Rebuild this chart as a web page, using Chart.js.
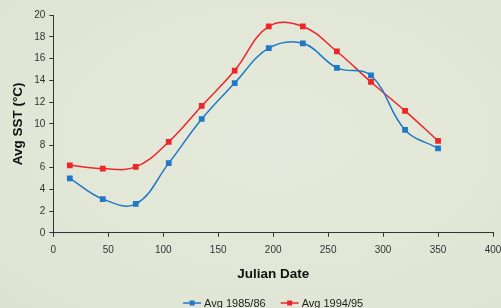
<!DOCTYPE html>
<html>
<head>
<meta charset="utf-8">
<script src="https://cdn.jsdelivr.net/npm/chart.js@4.4.1/dist/chart.umd.min.js"></script>
<style>
  html, body { margin: 0; padding: 0; }
  body {
    width: 501px; height: 308px; overflow: hidden;
    background: radial-gradient(ellipse at 55% 45%, #e6eadc 0%, #e1e6d6 60%, #dde3d2 100%);
  }
  canvas { display: block; }
</style>
</head>
<body>
<canvas id="sstChart" width="501" height="308"></canvas>
<script>
// Julian dates of the monthly averages
const julianDays = [15, 45, 75, 105, 135, 165, 196, 227, 258, 289, 320, 350];

// Average sea surface temperature (deg C)
const sst1985 = [5.0, 3.1, 2.65, 6.4, 10.45, 13.75, 16.95, 17.4, 15.15, 14.45, 9.45, 7.75];
const sst1994 = [6.2, 5.9, 6.05, 8.35, 11.65, 14.9, 18.95, 18.95, 16.65, 13.85, 11.2, 8.45];

const xTicks = [0, 50, 100, 150, 200, 250, 300, 350, 400];

const blue = 'rgb(32, 120, 200)';
const red = 'rgb(238, 38, 42)';
const FONT = '"Liberation Sans", Arial, sans-serif';

function toPoints(values) {
  return values.map((v, i) => ({ x: julianDays[i], y: v }));
}

// Legend drawn by hand: short line with a square marker, like the original
const lineLegend = {
  id: 'lineLegend',
  afterDraw(chart) {
    const ctx = chart.ctx;
    const y = 303;
    const items = chart.data.datasets.map(ds => ({ text: ds.label, color: ds.borderColor }));
    ctx.save();
    ctx.font = '11px ' + FONT;
    const lineW = 18, gap = 3, spacing = 15;
    let total = 0;
    items.forEach(it => { total += lineW + gap + ctx.measureText(it.text).width; });
    total += spacing * (items.length - 1);
    const area = chart.chartArea;
    let x = (area.left + area.right - total) / 2;
    items.forEach(it => {
      ctx.strokeStyle = it.color;
      ctx.fillStyle = it.color;
      ctx.lineWidth = 1.5;
      ctx.beginPath();
      ctx.moveTo(x, y);
      ctx.lineTo(x + lineW, y);
      ctx.stroke();
      ctx.fillRect(x + lineW / 2 - 2.5, y - 2.5, 5, 5);
      ctx.fillStyle = '#222';
      ctx.textBaseline = 'middle';
      ctx.fillText(it.text, x + lineW + gap, y + 1);
      x += lineW + gap + ctx.measureText(it.text).width + spacing;
    });
    ctx.restore();
  }
};

new Chart(document.getElementById('sstChart').getContext('2d'), {
  type: 'line',
  data: {
    datasets: [{
      label: 'Avg 1985/86',
      data: toPoints(sst1985),
      borderColor: blue,
      backgroundColor: blue,
      borderWidth: 1.5,
      pointStyle: 'rect',
      pointRadius: 3,
      tension: 0.4
    }, {
      label: 'Avg 1994/95',
      data: toPoints(sst1994),
      borderColor: red,
      backgroundColor: red,
      borderWidth: 1.5,
      pointStyle: 'rect',
      pointRadius: 3,
      tension: 0.4
    }]
  },
  options: {
    responsive: false,
    animation: false,
    devicePixelRatio: 1,
    layout: { padding: { left: 10, right: 8, top: 15, bottom: 26 } },
    plugins: {
      legend: { display: false },
      tooltip: { enabled: false }
    },
    scales: {
      x: {
        type: 'linear',
        min: 0,
        max: 400,
        afterBuildTicks: axis => { axis.ticks = xTicks.map(v => ({ value: v })); },
        // let the last tick label hang past the plot edge, as in the original
        afterFit: axis => { axis.paddingRight = 0; },
        grid: { drawOnChartArea: false, tickLength: 4, color: '#333' },
        border: { color: '#333', width: 1 },
        ticks: { color: '#333', padding: 7, font: { size: 10, family: FONT } },
        title: {
          display: true,
          text: 'Julian Date',
          color: '#111',
          padding: { top: 3, bottom: 0 },
          font: { size: 13.5, weight: 'bold', family: FONT }
        }
      },
      y: {
        min: 0,
        max: 20,
        ticks: { stepSize: 2, color: '#333', padding: 4, font: { size: 10, family: FONT } },
        grid: { drawOnChartArea: false, tickLength: 4, color: '#333' },
        border: { color: '#333', width: 1 },
        title: {
          display: true,
          text: 'Avg SST (°C)',
          color: '#111',
          padding: { top: 0, bottom: 4 },
          font: { size: 13.5, weight: 'bold', family: FONT }
        }
      }
    }
  },
  plugins: [lineLegend]
});
</script>
</body>
</html>
